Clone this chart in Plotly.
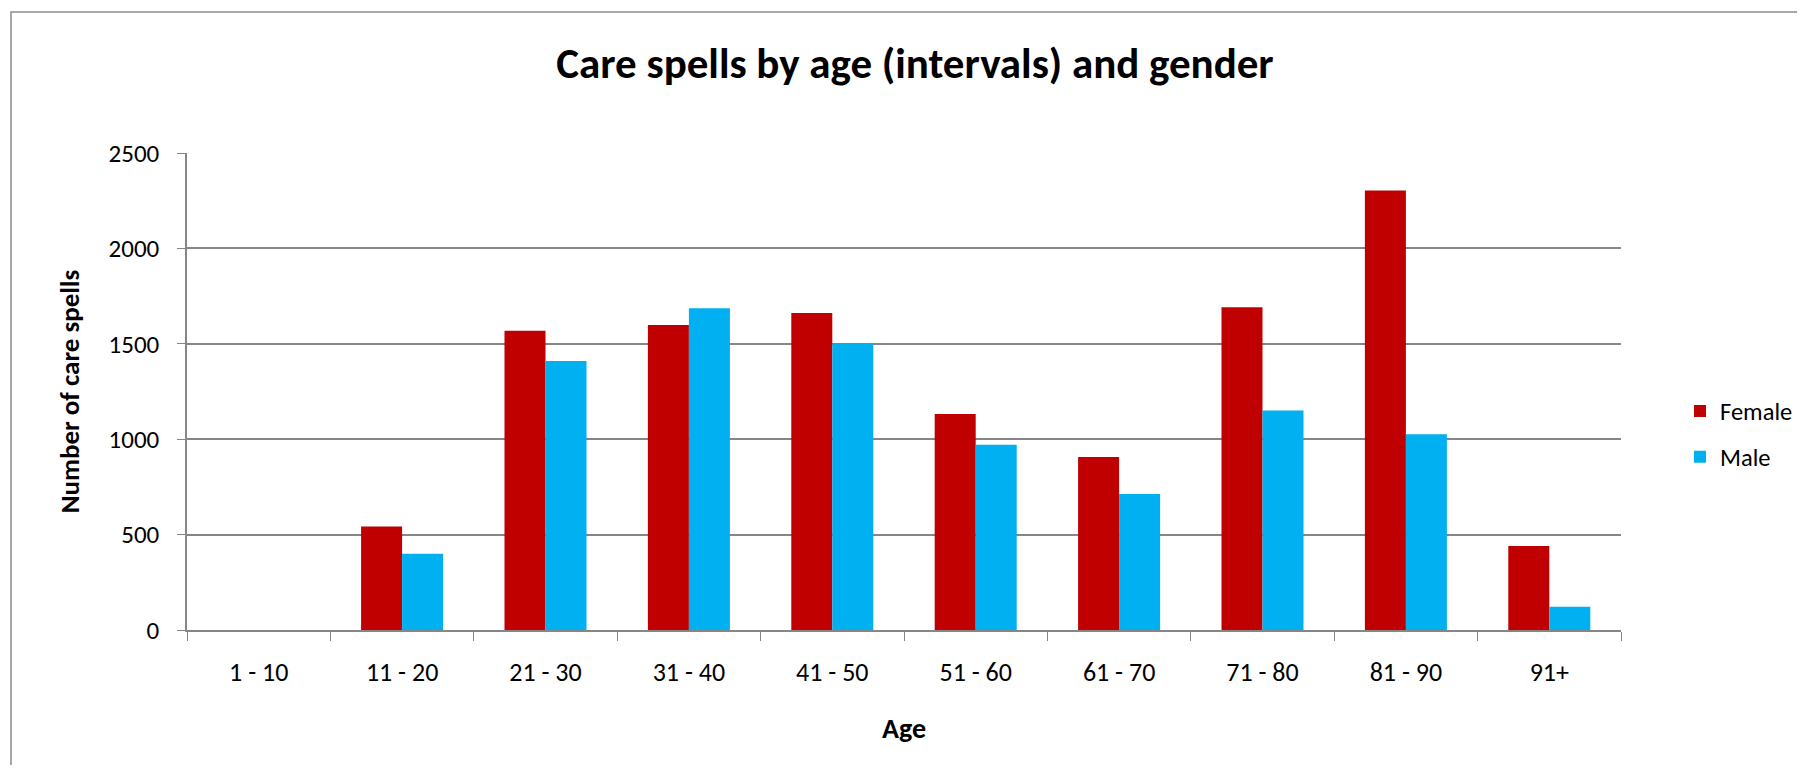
import plotly.graph_objects as go

categories = ["1 - 10", "11 - 20", "21 - 30", "31 - 40", "41 - 50",
              "51 - 60", "61 - 70", "71 - 80", "81 - 90", "91+"]
female = [0, 543, 1569, 1598, 1661, 1132, 907, 1691, 2304, 440]
male = [0, 400, 1410, 1686, 1502, 971, 713, 1150, 1026, 122]
y_ticks = [0, 500, 1000, 1500, 2000, 2500]

FONT = "Calibri, Carlito, Lato, sans-serif"
GRID = "#868686"

OFF = 8  # page body margin
W, H = 1805 - 2 * OFF, 773 - 2 * OFF
# plot area in page pixels
L, R, T, B = 187, 1621, 153, 630
pw, ph = R - L, B - T


def px(x):
    return (x - L) / pw


def py(y):
    return (B - y) / ph


fig = go.Figure()
fig.add_trace(go.Bar(name="Female", x=categories, y=female,
                     marker=dict(color="#C00000", line=dict(width=0)),
                     legendgroup="f"))
fig.add_trace(go.Bar(name="Male", x=categories, y=male,
                     marker=dict(color="#00B0F0", line=dict(width=0)),
                     legendgroup="m"))

fig.update_layout(
    width=W, height=H,
    margin=dict(l=L - OFF, r=W - (R - OFF), t=T - OFF, b=H - (B - OFF), pad=0,
                autoexpand=False),
    paper_bgcolor="white", plot_bgcolor="white",
    font=dict(family=FONT, size=25, color="black"),
    barmode="group", bargap=0.428, bargroupgap=0,
    title=dict(text="<b>Care spells by age (intervals) and gender</b>",
               x=px(915), xref="paper", xanchor="center",
               y=1 - (63 - OFF) / H, yref="container", yanchor="middle",
               font=dict(family=FONT, size=43, color="black")),
    legend=dict(x=px(1680), xanchor="left", y=py(434), yanchor="middle",
                font=dict(family=FONT, size=24.5), tracegroupgap=11,
                traceorder="grouped", bgcolor="rgba(0,0,0,0)"),
    showlegend=True,
    xaxis=dict(type="category", showline=True, linecolor=GRID, linewidth=1.5,
               ticks="outside", tickson="boundaries", ticklen=9, tickcolor=GRID,
               tickwidth=1, showgrid=False, ticklabelstandoff=18,
               tickfont=dict(family=FONT, size=26),
               title=dict(text="<b>Age</b>", standoff=31,
                          font=dict(family=FONT, size=28))),
    yaxis=dict(range=[0, 2500], tickvals=y_ticks, showline=True, linecolor=GRID,
               linewidth=1.5, ticks="outside", ticklen=8, tickcolor=GRID,
               showgrid=True, gridcolor=GRID, gridwidth=1.5, zeroline=False,
               ticklabelstandoff=13, tickfont=dict(family=FONT, size=25),
               title=dict(text="<b>Number of care spells</b>", standoff=21,
                          font=dict(family=FONT, size=27))),
    shapes=[dict(type="rect", xref="paper", yref="paper",
                 x0=px(11), x1=px(1830), y0=py(800), y1=py(12),
                 line=dict(color="#8c8c8c", width=1.5), layer="below")],
)

fig.write_html("out.html")
